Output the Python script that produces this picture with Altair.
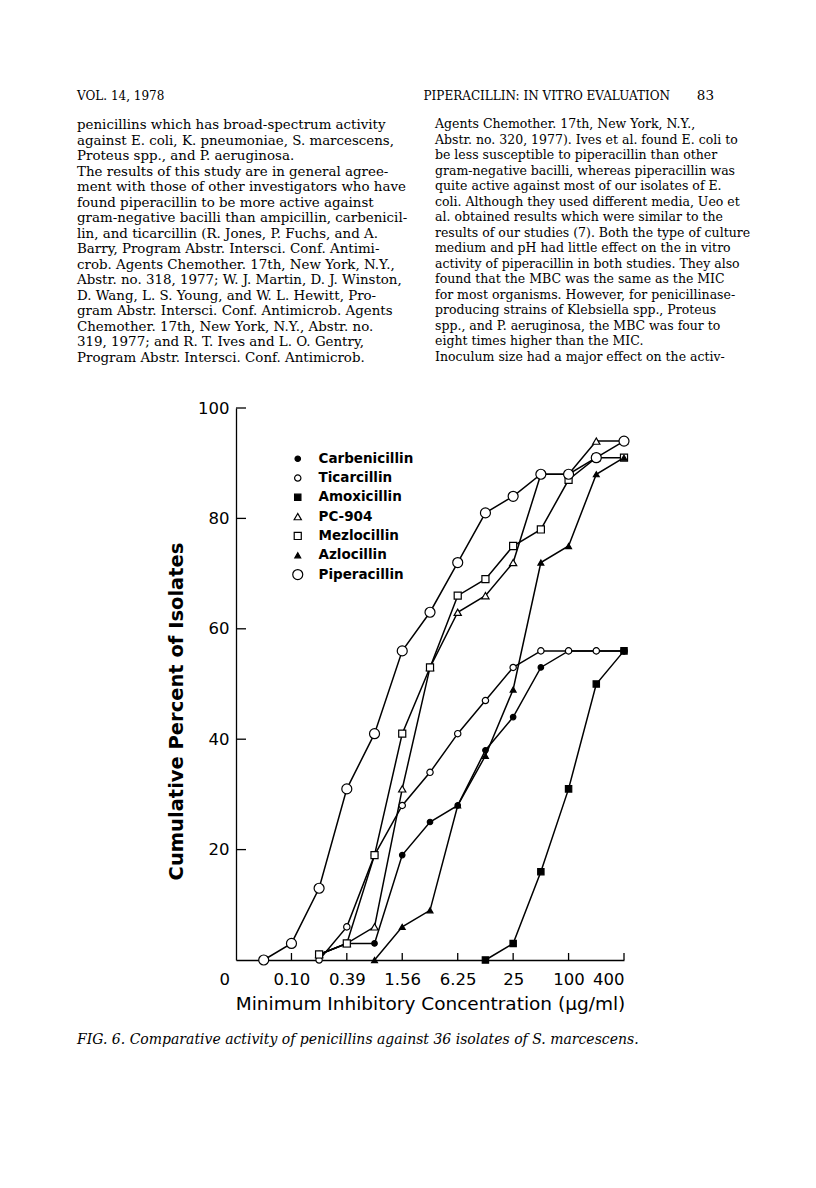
import altair as alt
import pandas as pd

# ---- data ----
conc = [0.0244, 0.0488, 0.0977, 0.195, 0.39, 0.78, 1.56, 3.125, 6.25, 12.5, 25, 50, 100, 200, 400]
drugs = ["Carbenicillin", "Ticarcillin", "Amoxicillin", "PC-904", "Mezlocillin", "Azlocillin", "Piperacillin"]
carbenicillin = [None, None, None, 1, 3, 3, 19, 25, 28, 38, 44, 53, 56, 56, 56]
ticarcillin = [None, None, None, 0, 6, 19, 28, 34, 41, 47, 53, 56, 56, 56, 56]
amoxicillin = [None, None, None, None, None, None, None, None, None, 0, 3, 16, 31, 50, 56]
pc904 = [None, None, None, 1, 3, 6, 31, 53, 63, 66, 72, 88, 88, 94, 94]
mezlocillin = [None, None, None, 1, 3, 19, 41, 53, 66, 69, 75, 78, 87, 91, 91]
azlocillin = [None, None, None, None, None, 0, 6, 9, 28, 37, 49, 72, 75, 88, 91]
piperacillin = [None, 0, 3, 13, 31, 41, 56, 63, 72, 81, 84, 88, 88, 91, 94]

shapes = ["circle", "circle", "square", "triangle-up", "square", "triangle-up", "circle"]
fills = ["black", "white", "black", "white", "white", "black", "white"]
sizes = [30, 40, 40, 52, 50, 34, 100]

x_tick_values = [0.0244, 0.0977, 0.39, 1.56, 6.25, 25, 100, 400]
x_tick_labels = ["0", "0.10", "0.39", "1.56", "6.25", "25", "100", "400"]
y_tick_values = [20, 40, 60, 80, 100]

INDENT = "\u2003"
header_left = "VOL. 14, 1978"
header_mid = "PIPERACILLIN: IN VITRO EVALUATION"
header_page = "83"
left_lines = [
    "penicillins which has broad-spectrum activity",
    "against E. coli, K. pneumoniae, S. marcescens,",
    "Proteus spp., and P. aeruginosa.",
    INDENT + "The results of this study are in general agree-",
    "ment with those of other investigators who have",
    "found piperacillin to be more active against",
    "gram-negative bacilli than ampicillin, carbenicil-",
    "lin, and ticarcillin (R. Jones, P. Fuchs, and A.",
    "Barry, Program Abstr. Intersci. Conf. Antimi-",
    "crob. Agents Chemother. 17th, New York, N.Y.,",
    "Abstr. no. 318, 1977; W. J. Martin, D. J. Winston,",
    "D. Wang, L. S. Young, and W. L. Hewitt, Pro-",
    "gram Abstr. Intersci. Conf. Antimicrob. Agents",
    "Chemother. 17th, New York, N.Y., Abstr. no.",
    "319, 1977; and R. T. Ives and L. O. Gentry,",
    "Program Abstr. Intersci. Conf. Antimicrob.",
]
right_lines = [
    "Agents Chemother. 17th, New York, N.Y.,",
    "Abstr. no. 320, 1977). Ives et al. found E. coli to",
    "be less susceptible to piperacillin than other",
    "gram-negative bacilli, whereas piperacillin was",
    "quite active against most of our isolates of E.",
    "coli. Although they used different media, Ueo et",
    "al. obtained results which were similar to the",
    "results of our studies (7). Both the type of culture",
    "medium and pH had little effect on the in vitro",
    "activity of piperacillin in both studies. They also",
    "found that the MBC was the same as the MIC",
    "for most organisms. However, for penicillinase-",
    "producing strains of Klebsiella spp., Proteus",
    "spp., and P. aeruginosa, the MBC was four to",
    "eight times higher than the MIC.",
    INDENT + "Inoculum size had a major effect on the activ-",
]
caption = "FIG. 6. Comparative activity of penicillins against 36 isolates of S. marcescens."

# ---- build table ----
series = dict(zip(drugs, [carbenicillin, ticarcillin, amoxicillin, pc904, mezlocillin, azlocillin, piperacillin]))
rows = []
for d in drugs:
    for c, v in zip(conc, series[d]):
        if v is not None:
            rows.append({"drug": d, "conc": c, "pct": v})
df = pd.DataFrame(rows)

xscale = alt.Scale(type="log", base=2, domain=[conc[0], conc[-1]], nice=False)
yscale = alt.Scale(domain=[0, 100], nice=False, zero=True)

label_expr = "[" + ",".join("'%s'" % s for s in x_tick_labels) + "][indexof([" + \
    ",".join(str(v) for v in x_tick_values) + "], datum.value)]"

AX_FONT = "DejaVu Sans"

x_axis = alt.Axis(
    values=x_tick_values, labelExpr=label_expr, ticks=False, tickSize=0,
    grid=False, domainColor="black", domainWidth=1.3,
    labelFont=AX_FONT, labelFontSize=16.5, labelColor="black", labelPadding=11,
    labelOffset={"condition": {"test": "datum.value < 0.05", "value": -17}, "value": 0},
    title="Minimum Inhibitory Concentration (\u03bcg/ml)", titleFont=AX_FONT,
    titleFontSize=18.5, titleFontWeight="normal", titleColor="black", titlePadding=7,
)
y_axis = alt.Axis(
    values=y_tick_values, ticks=False, tickSize=0, grid=False,
    domainColor="black", domainWidth=1.3,
    labelFont=AX_FONT, labelFontSize=16.5, labelColor="black", labelPadding=7,
    title="Cumulative Percent of Isolates", titleFont=AX_FONT, titleFontSize=19.5,
    titleFontWeight="bold", titleColor="black", titleX=-60, titleY=303,
    titleAngle=-90, titleAlign="center", titleBaseline="middle",
)
x_enc = alt.X("conc:Q", scale=xscale, axis=x_axis)
y_enc = alt.Y("pct:Q", scale=yscale, axis=y_axis)

base = alt.Chart(df)
lines = base.mark_line(color="black", strokeWidth=1.5).encode(
    x=x_enc, y=y_enc, detail="drug:N"
)
points = base.mark_point(filled=True, strokeWidth=1.2, opacity=1).encode(
    x=x_enc,
    y=y_enc,
    shape=alt.Shape("drug:N", scale=alt.Scale(domain=drugs, range=shapes), legend=alt.Legend(title=None)),
    fill=alt.Fill("drug:N", scale=alt.Scale(domain=drugs, range=fills), legend=alt.Legend(title=None)),
    stroke=alt.Stroke("drug:N", scale=alt.Scale(domain=drugs, range=["black"] * len(drugs)),
                      legend=alt.Legend(title=None)),
    size=alt.Size("drug:N", scale=alt.Scale(type="ordinal", domain=drugs, range=sizes),
                  legend=alt.Legend(title=None)),
)

xt = alt.Chart(pd.DataFrame({"conc": x_tick_values[1:]})).mark_rule(color="black", strokeWidth=1.3).encode(
    x=x_enc, y=alt.value(552), y2=alt.value(545)
)
yt = alt.Chart(pd.DataFrame({"pct": y_tick_values})).mark_rule(color="black", strokeWidth=1.3).encode(
    y=y_enc, x=alt.value(0), x2=alt.value(10)
)

one = pd.DataFrame({"k": [0]})
SERIF = "DejaVu Serif"
t_hl = alt.Chart(one).mark_text(text=header_left, align="left", baseline="middle", font=SERIF,
                                 fontSize=12, color="black").encode(x=alt.value(-159), y=alt.value(-312))
t_hm = alt.Chart(one).mark_text(text=header_mid, align="right", baseline="middle", font=SERIF,
                                 fontSize=12, color="black").encode(x=alt.value(434), y=alt.value(-312))
t_hp = alt.Chart(one).mark_text(text=header_page, align="right", baseline="middle", font=SERIF,
                                 fontSize=13.5, color="black").encode(x=alt.value(478), y=alt.value(-312))
t_left = alt.Chart(one).mark_text(text=left_lines, align="left", baseline="top", font=SERIF,
                                   fontSize=13.4, lineHeight=15.5, color="black").encode(
    x=alt.value(-159), y=alt.value(-290))
t_right = alt.Chart(one).mark_text(text=right_lines, align="left", baseline="top", font=SERIF,
                                    fontSize=12.5, lineHeight=15.5, color="black").encode(
    x=alt.value(199), y=alt.value(-290))
t_cap = alt.Chart(one).mark_text(text=caption, align="left", baseline="middle", font=SERIF,
                                  fontSize=14, fontStyle="italic", color="black").encode(
    x=alt.value(-159), y=alt.value(632))

chart = alt.layer(lines, xt, yt, points, t_hl, t_hm, t_hp, t_left, t_right, t_cap).properties(
    width=388, height=552,
    autosize=alt.AutoSizeParams(type="none"),
    padding={"left": 228, "top": 400, "right": 180, "bottom": 200},
    background="white",
).configure_view(stroke=None).configure_legend(
    orient="none", legendX=55, legendY=44, padding=0,
    labelFont=AX_FONT, labelFontSize=13.5, labelFontWeight="bold", labelColor="black",
    rowPadding=4.3, labelOffset=14, symbolStrokeWidth=1.2,
)

chart.save("out.html", embed_options={"renderer": "svg", "actions": False})
